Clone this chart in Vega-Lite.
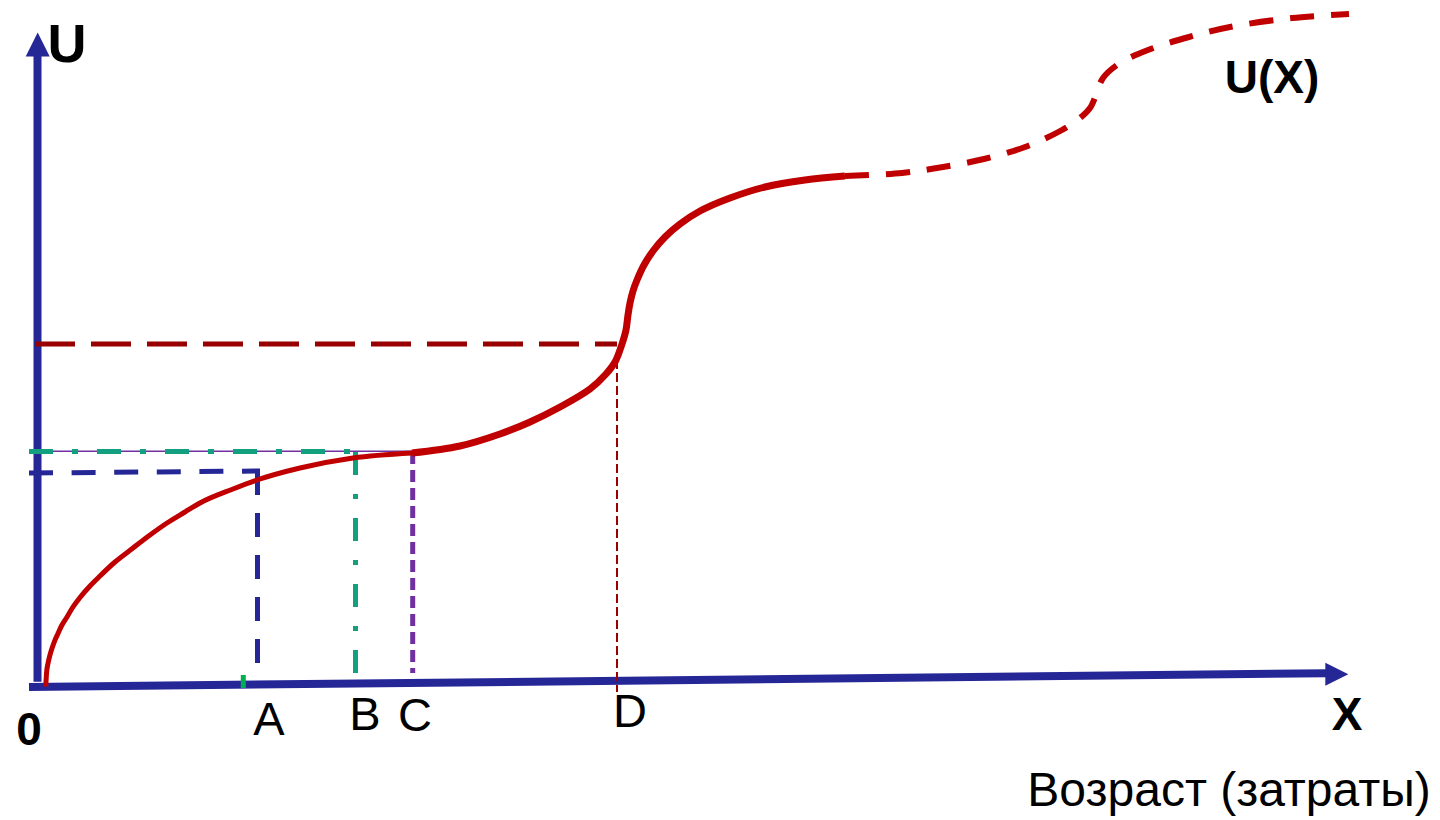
{
  "$schema": "https://vega.github.io/schema/vega-lite/v6.json",
  "width": 1440,
  "height": 820,
  "autosize": {"type": "fit", "contains": "padding"},
  "padding": 0,
  "background": "white",
  "config": {"view": {"stroke": null}},
  "datasets": {
    "yaxis": [{"i": 0, "x": 37.5, "y": 138.3}, {"i": 1, "x": 37.5, "y": 764}],
    "xaxis": [{"i": 0, "x": 29, "y": 133}, {"i": 1, "x": 1327, "y": 146.8}],
    "arrowY": [{"x": 37.7, "y": 775.5}],
    "arrowX": [{"x": 1336.8, "y": 145.7}],
    "darkredH": [{"i": 0, "x": 35, "y": 476}, {"i": 1, "x": 617, "y": 476}],
    "darkredV": [{"i": 0, "x": 617, "y": 460}, {"i": 1, "x": 617, "y": 128}],
    "tealH": [{"i": 0, "x": 29, "y": 368.5}, {"i": 1, "x": 356, "y": 368.5}],
    "tealV": [{"i": 0, "x": 355.5, "y": 368}, {"i": 1, "x": 355.5, "y": 145}],
    "purpleH": [{"i": 0, "x": 29, "y": 368.8}, {"i": 1, "x": 412, "y": 368.8}],
    "purpleV": [{"i": 0, "x": 412.7, "y": 368}, {"i": 1, "x": 412.7, "y": 147}],
    "navyH": [{"i": 0, "x": 29, "y": 347}, {"i": 1, "x": 260, "y": 349}],
    "navyV": [{"i": 0, "x": 257.5, "y": 349}, {"i": 1, "x": 257.5, "y": 155}],
    "green": [{"i": 0, "x": 243.3, "y": 145}, {"i": 1, "x": 243.3, "y": 132}],
    "curve1": [
      {"i": 0, "x": 45.7, "y": 133.3},
      {"i": 1, "x": 46.7, "y": 148.6},
      {"i": 2, "x": 48, "y": 156.5},
      {"i": 3, "x": 49.7, "y": 163.9},
      {"i": 4, "x": 52, "y": 171.7},
      {"i": 5, "x": 54.7, "y": 179.2},
      {"i": 6, "x": 58, "y": 186.5},
      {"i": 7, "x": 61.7, "y": 194.5},
      {"i": 8, "x": 66.7, "y": 202.5},
      {"i": 9, "x": 72, "y": 211.5},
      {"i": 10, "x": 80, "y": 222.5},
      {"i": 11, "x": 90, "y": 234},
      {"i": 12, "x": 100, "y": 244},
      {"i": 13, "x": 115, "y": 258},
      {"i": 14, "x": 133, "y": 272},
      {"i": 15, "x": 150, "y": 285},
      {"i": 16, "x": 167, "y": 297},
      {"i": 17, "x": 185, "y": 308},
      {"i": 18, "x": 200, "y": 317},
      {"i": 19, "x": 233, "y": 331},
      {"i": 20, "x": 257, "y": 340},
      {"i": 21, "x": 300, "y": 352},
      {"i": 22, "x": 353, "y": 362},
      {"i": 23, "x": 412, "y": 367}
    ],
    "curve2": [
      {"i": 0, "x": 412, "y": 367},
      {"i": 1, "x": 460, "y": 374},
      {"i": 2, "x": 500, "y": 386},
      {"i": 3, "x": 530, "y": 398},
      {"i": 4, "x": 560, "y": 413},
      {"i": 5, "x": 590, "y": 431},
      {"i": 6, "x": 606, "y": 446},
      {"i": 7, "x": 615, "y": 458},
      {"i": 8, "x": 622, "y": 476},
      {"i": 9, "x": 626, "y": 490},
      {"i": 10, "x": 628, "y": 505},
      {"i": 11, "x": 630, "y": 517},
      {"i": 12, "x": 633, "y": 529},
      {"i": 13, "x": 637, "y": 540},
      {"i": 14, "x": 644, "y": 555},
      {"i": 15, "x": 653, "y": 569},
      {"i": 16, "x": 665, "y": 583},
      {"i": 17, "x": 680, "y": 596},
      {"i": 18, "x": 700, "y": 609},
      {"i": 19, "x": 730, "y": 622},
      {"i": 20, "x": 765, "y": 633},
      {"i": 21, "x": 805, "y": 640},
      {"i": 22, "x": 845, "y": 644}
    ],
    "curve3": [
      {"i": 0, "x": 845, "y": 644},
      {"i": 1, "x": 902, "y": 647},
      {"i": 2, "x": 943, "y": 653},
      {"i": 3, "x": 984, "y": 661},
      {"i": 4, "x": 1025, "y": 673},
      {"i": 5, "x": 1062, "y": 690},
      {"i": 6, "x": 1080, "y": 702},
      {"i": 7, "x": 1090, "y": 712},
      {"i": 8, "x": 1096, "y": 725},
      {"i": 9, "x": 1103, "y": 742},
      {"i": 10, "x": 1120, "y": 757},
      {"i": 11, "x": 1148, "y": 770},
      {"i": 12, "x": 1189, "y": 783},
      {"i": 13, "x": 1230, "y": 793},
      {"i": 14, "x": 1292, "y": 802},
      {"i": 15, "x": 1349, "y": 806}
    ],
    "txtU": [{"label": "U", "x": 67, "y": 758}],
    "txtBold": [
      {"label": "U(X)", "x": 1272, "y": 727},
      {"label": "0", "x": 29, "y": 75},
      {"label": "X", "x": 1347, "y": 90}
    ],
    "txtLetters": [
      {"label": "A", "x": 269, "y": 85},
      {"label": "B", "x": 365, "y": 90},
      {"label": "C", "x": 415, "y": 89},
      {"label": "D", "x": 630, "y": 93}
    ],
    "txtTitle": [{"label": "Возраст (затраты)", "x": 1229, "y": 14}]
  },
  "encoding": {
    "x": {"field": "x", "type": "quantitative", "scale": {"domain": [0, 1440], "nice": false, "zero": false}, "axis": null},
    "y": {"field": "y", "type": "quantitative", "scale": {"domain": [0, 820], "nice": false, "zero": false}, "axis": null}
  },
  "layer": [
    {"data": {"name": "yaxis"}, "mark": {"type": "line", "color": "#262796", "strokeWidth": 8}, "encoding": {"order": {"field": "i"}}},
    {"data": {"name": "xaxis"}, "mark": {"type": "line", "color": "#262796", "strokeWidth": 8}, "encoding": {"order": {"field": "i"}}},
    {"data": {"name": "arrowY"}, "mark": {"type": "point", "shape": "M0,-1L1,1L-1,1Z", "size": 576, "filled": true, "color": "#262796", "opacity": 1, "strokeWidth": 0}},
    {"data": {"name": "arrowX"}, "mark": {"type": "point", "shape": "M1,0L-1,-1L-1,1Z", "size": 529, "filled": true, "color": "#262796", "opacity": 1, "strokeWidth": 0}},
    {"data": {"name": "darkredH"}, "mark": {"type": "line", "color": "#9A0000", "strokeWidth": 5, "strokeDash": [40, 16]}, "encoding": {"order": {"field": "i"}}},
    {"data": {"name": "darkredV"}, "mark": {"type": "line", "color": "#9A0000", "strokeWidth": 2, "strokeDash": [9, 4]}, "encoding": {"order": {"field": "i"}}},
    {"data": {"name": "purpleH"}, "mark": {"type": "line", "color": "#7030A0", "strokeWidth": 1.5}, "encoding": {"order": {"field": "i"}}},
    {"data": {"name": "tealH"}, "mark": {"type": "line", "color": "#12A07E", "strokeWidth": 5, "strokeDash": [24, 19, 6, 19]}, "encoding": {"order": {"field": "i"}}},
    {"data": {"name": "tealV"}, "mark": {"type": "line", "color": "#12A07E", "strokeWidth": 5, "strokeDash": [23, 19, 5, 19]}, "encoding": {"order": {"field": "i"}}},
    {"data": {"name": "purpleV"}, "mark": {"type": "line", "color": "#7030A0", "strokeWidth": 5, "strokeDash": [12, 6]}, "encoding": {"order": {"field": "i"}}},
    {"data": {"name": "navyH"}, "mark": {"type": "line", "color": "#262796", "strokeWidth": 5, "strokeDash": [24, 18.6]}, "encoding": {"order": {"field": "i"}}},
    {"data": {"name": "navyV"}, "mark": {"type": "line", "color": "#262796", "strokeWidth": 5, "strokeDash": [24, 18]}, "encoding": {"order": {"field": "i"}}},
    {"data": {"name": "green"}, "mark": {"type": "line", "color": "#00B050", "strokeWidth": 5}, "encoding": {"order": {"field": "i"}}},
    {"data": {"name": "curve1"}, "mark": {"type": "line", "color": "#C00000", "strokeWidth": 5, "interpolate": "monotone"}, "encoding": {"order": {"field": "i"}}},
    {"data": {"name": "curve2"}, "mark": {"type": "line", "color": "#C00000", "strokeWidth": 7, "interpolate": "catmull-rom"}, "encoding": {"order": {"field": "i"}}},
    {"data": {"name": "curve3"}, "mark": {"type": "line", "color": "#C00000", "strokeWidth": 6, "strokeDash": [24, 17], "interpolate": "catmull-rom"}, "encoding": {"order": {"field": "i"}}},
    {"data": {"name": "txtU"}, "mark": {"type": "text", "font": "Liberation Sans", "fontWeight": "bold", "fontSize": 54, "align": "center", "baseline": "alphabetic", "color": "black"}, "encoding": {"text": {"field": "label"}}},
    {"data": {"name": "txtBold"}, "mark": {"type": "text", "font": "Liberation Sans", "fontWeight": "bold", "fontSize": 46, "align": "center", "baseline": "alphabetic", "color": "black"}, "encoding": {"text": {"field": "label"}}},
    {"data": {"name": "txtLetters"}, "mark": {"type": "text", "font": "Liberation Sans", "fontSize": 47, "align": "center", "baseline": "alphabetic", "color": "black"}, "encoding": {"text": {"field": "label"}}},
    {"data": {"name": "txtTitle"}, "mark": {"type": "text", "font": "Liberation Sans", "fontSize": 48, "align": "center", "baseline": "alphabetic", "color": "black"}, "encoding": {"text": {"field": "label"}}}
  ]
}
